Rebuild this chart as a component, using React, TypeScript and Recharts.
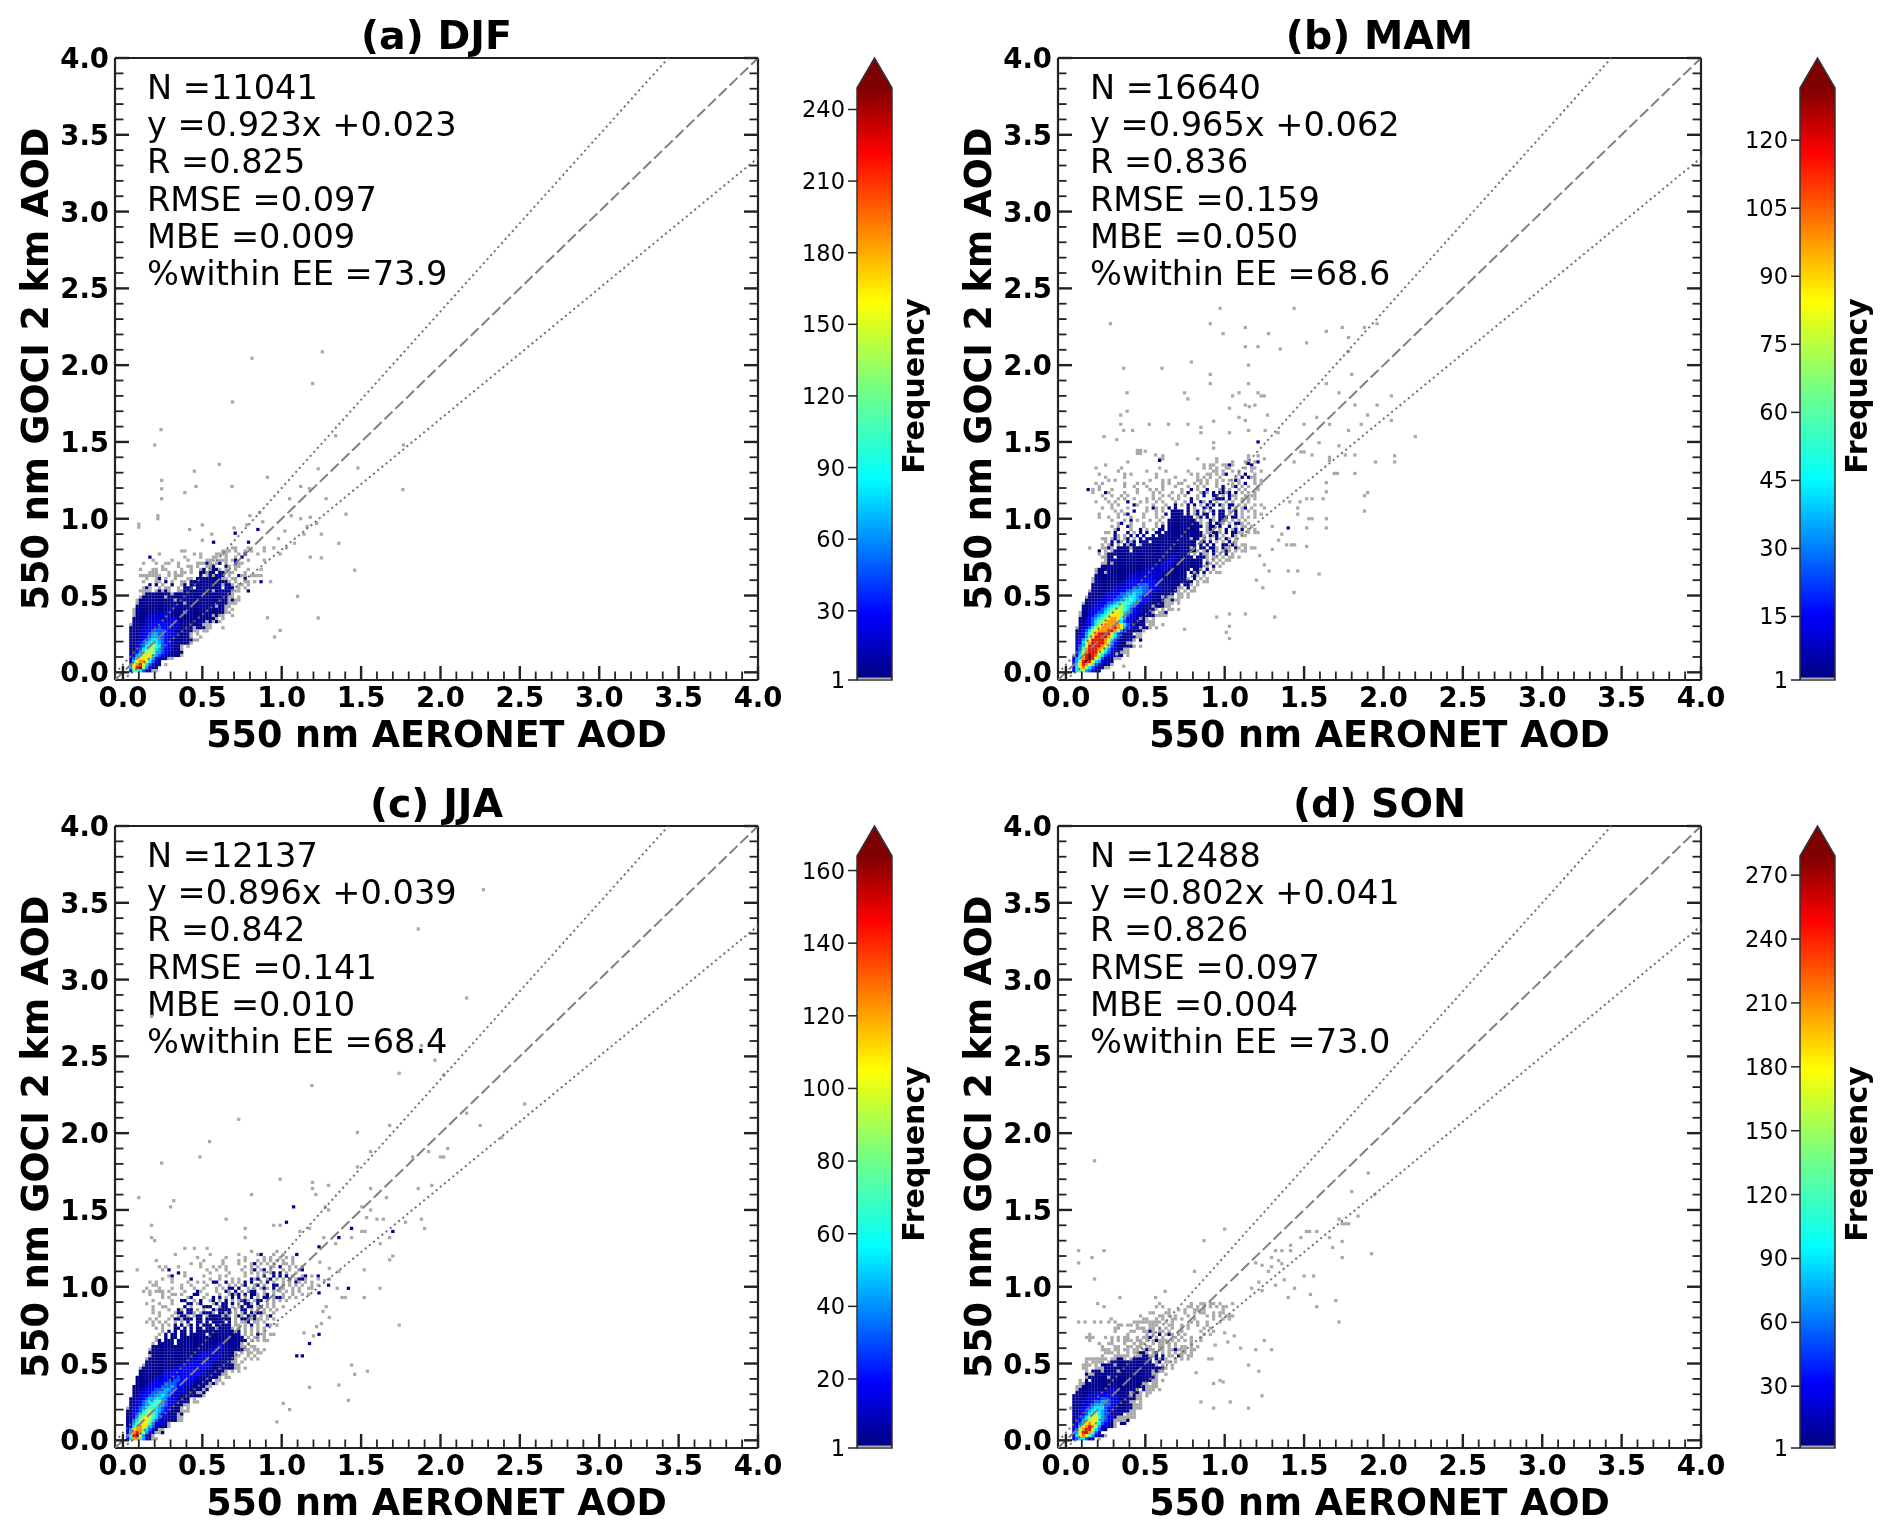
import React from 'react';
import { ScatterChart, Scatter, XAxis, YAxis, ReferenceArea } from 'recharts';

const FONT = '"DejaVu Sans", sans-serif';
const BIN = 0.02;

const axisTicks = [0, 0.1, 0.2, 0.3, 0.4, 0.5, 0.6, 0.7, 0.8, 0.9, 1, 1.1, 1.2, 1.3, 1.4, 1.5, 1.6, 1.7, 1.8, 1.9, 2, 2.1, 2.2, 2.3, 2.4, 2.5, 2.6, 2.7, 2.8, 2.9, 3, 3.1, 3.2, 3.3, 3.4, 3.5, 3.6, 3.7, 3.8, 3.9, 4];

// '.' empty, g = under-range grey, 0-9 r d = jet steps
const levelColors: Record<string, string> = {
  g: '#a9a9a9', '0': '#00008f', '1': '#0000cf', '2': '#0000ff', '3': '#0058ff', '4': '#00a4ff',
  '5': '#00e8ff', '6': '#40ffb8', '7': '#a4ff58', '8': '#ffe800', '9': '#ff9400', r: '#e81000', d: '#800000',
};

// one string per 0.02 row of GOCI AOD, top row first, each char one 0.02 column of AERONET AOD from 0
const rowsA = [
  '..................................gg...g....g..g...g',
  '..................gg...........ggg.g..g.g...g',
  '...........g..........g.g....gggg...g.0...g......g',
  '........0..........g....g...gg..g..g.0',
  '.........g.....g....g.....ggg.ggg.g0...g....g',
  '......g...g..gg..g.....ggg0g.g0.g..0gg',
  '............g....g..gg.g..gg0...0g.gg',
  '.....g...gg.gg....g..g..g0.g00g.g..g...g...g',
  '........ggg...g.g.gg.g..00g00.00.gg...g',
  '.....ggggggg..g.ggg.....0.g0g000.g..0gg.gggg',
  '.......g..g0.g..g...gg.00000000gg.gg..0',
  '......g...gg.0.g..gg.000000000000g.g..gg.g.0..g',
  '........0.0.g..0..g0.0000000000g00g.gg.g',
  '......g0g..g.gg..g.000.00000000.000.g.g',
  '.....gggg.g0g0g..gg000000000g00000ggg..0',
  '......g00000000g000000000000000000g',
  '.....g0000000g0000000000000000000gg.g',
  '....g00000000000g0000000000000000g0gg',
  '....g00000000000000g0000000000000ggg',
  '....0000000000001000000000000g00gg',
  '...g0000000000110000000000000000g.g',
  '...g000000111111000g000000000000gg',
  '...g000011111110000000000000g0gg..g',
  '...00001111111111000000000000g.g',
  '...00001112221111100000000g0g0g',
  '..g0000112222221110000000ggg',
  '..00001122232221110000g000gg...g',
  '..00011223333221100000gg.gg',
  '..0001223443322110000g.g',
  '..0001123443321100000g..g',
  '..00012345543211000000gg',
  '..0012345654321100000g',
  '..0012356765321100g.g',
  '..0013567754321100g',
  '..00246777543210000',
  '..0146788643210000g',
  '..136888742100gg',
  '..2589985310',
  '..389r853100.g',
  '..48rd74100',
  '..2665310gg',
];

const rowsB = [
  '..............................g..........................g..g',
  '.............................gg..........g.....g.........g....g',
  '...................g...........................g....g...gg.g',
  '............g..............................g.gg..gg0g.....0',
  '.........g.......g...........g.............g.g.g..gg....g.gg',
  '................g........g.....g......g.......gg.g..g.g...g..g',
  '..........g.......g.g.......g..........g.g..gg.g.g0...g.0..g',
  '............g.....g.........g.....g......g.g.g..g....g.0.0gg',
  '.............g.g..........g...g.g....g...gg.g..g.g.g.0g....g.g',
  '.........g.g......g...g.g.....g.g..gg...g.g.g..g....g.g.0..g.g',
  '..........g.......g..g...g....g...g...g..g.g...g.0..g0.g.g..g',
  '........g.g...g.......g...g.g.g.....g..0.g..0...g0.g..g.g...g',
  '........g...0g....g...g....g.g...g..g.0...g0g.0.00g0.0.g.g.g',
  '...........g..g..g.g.......g..g.g..g.g...g.0..00.g.0gg..g.gg',
  '............g...g.g..g...g.g.g...g.g...0.g....g000.0.g.g.g.g',
  '.........g...g.g...0...g.g..g.g...g..g.0..0g.0.g..g.g..g.g',
  '..............g.g....0g....g...g..0.g.0.0.g.0.0.0g.00.g.g..g.g',
  '...........g..g....g.....g.0g.g.0.0...0.g..0.0...g.0.g.g0.g...g',
  '...............g.g...0...g..g.g..0000.0.g0.g.g0.00.g.0.g.g.g',
  '..........g.....g.g0....g...g..0.0000.0.g0.00.0.00.g.0.g...g.g',
  '..........g..g..g...g...g...g.g..0000000.g0.0.g.000.00.g.g.g',
  '..............g...g.0.g...g..g..000000000.g..0g.00g.g.g.g',
  '................g0..g...g...g.g.0000000000g.g0.00g.g.00g.g',
  '..............g.g..0g...g...g.0.00000000000.g00.0..0.g.gg.g',
  '...............g0...g..0.g.g.00.0000000000..g0..g.0.g0.0.g.g',
  '............gg.0...0.g.0.0..00.000000000000.g.00g.0.00gg.g.gg',
  '...............0g.g.0.0.0..0.00000000000000g.0g0.g..0g.gg',
  '...........gg.g0g.g0.g.0.00000000000000g00.g.g.0g.0g.g',
  '............g.0.0g.0g0.000.00000000000000.g0.0.g.g.0.g',
  '...........g.g0.g.0g00.g00000000000000000.0.0.0..00.0g.gg',
  '.......g...gg0g.0000g000000000000000000g0.00.00g.0gg.0g.g.gg',
  '..........0.g.g00000.00000000000000000000g.g0.0g.g0g.g.gg',
  '..........g.g00000000000000000000000000.g.0gg.0.g.0.g',
  '...........gg00.000000000000000001100000.000g.gg.g.gg.g',
  '............g000000000000000000011100000000.g.g.g.gg',
  '...........gg0g0000000000000001111000000000.0g.g.g',
  '...........00000000000000001111110000000000.g.0.g',
  '.........g00000000000000011111110000000.00g.0.g',
  '.........g00g0000000001111111100000000.0g0.0.g.gg',
  '.........00000000000111111111100000000..0g.g',
  '........g00000000001111222211100000000g.0.g.g',
  '........g0000000001112222222110000000000.g.gg',
  '........0000000011112223332211000000.00g.g',
  '........000000011112233433221100000gg.0.g',
  '.......g000000111223344433211000000g.g.gg',
  '.......000001112233445443210000000.gg.g',
  '......g00001112233455543211000g0gg.gg.g',
  '......0000111223345565432110000gg0gg',
  '.....g0001112334566654321100000ggg.g',
  '.....0001122345667654321000g000gg',
  '.....00112234567776532110000g.g.gg.g',
  '....g0011233567887543211000g.gg0',
  '....g00123456788875321100000gggg',
  '....0012345678998642110g0g.g',
  '....001235678999853210000ggg',
  '....001235789999985321000.gg..g',
  '...g01235789999r9842100g00g.g',
  '...0013578999rr974210000g',
  '...0024689rrrr8531000.gg',
  '...012468rrrr975310000gg',
  '...02468rrrr985310000g.0',
  '...02579rrrr9742100gg',
  '...1357rrrr9863100000g.g',
  '...1369rrr98642100gg',
  '...2479rrr8753100ggg',
  '..g258rdr975321000.g',
  '..1469rdr863100gg',
  '..247rdr8542100',
  '..258r98631000g',
  '..2589753100gg',
  '..156743100',
];

const rowsC = [
  '...................g..g...g',
  '........................................g.......g',
  '................g..........g........g.....g0...g..g',
  '.......................g........g.....g.....g.g..g.g.g',
  '..........g..............g.....g....g.g...g.g.g.g.g..g',
  '.....................g..g......g....g...g0.g.g.g..gg.g',
  '...........g.g...g......g...g.g.g.....g.g.g...gg....g.g.g',
  '....g.......g.0...........g..g..g....g..g0.g0.g...g.g..g0',
  '.................0.g.......g.....g....g.g.g.g.g0.0.g..g',
  '..............g0...g.....g....g.g.....g...g.0..0.0.g.g..g0.g.0',
  '............g..g.....0.....g..g...g.g...0g0..g0.g.g.0.g0.g...g',
  '........g.g....g....g..g.g..00..0.g.g.0.0..g.0.g..g.g.0g.g.g',
  '.........gg.......g..g....g...g..g.g.g0..g0.g..00.g.g.g.g..g.g',
  '.......g...g...g..g...g..g...g.g.00.0..g.g.g0g.0.gg..g.g..gg',
  '......g.g.ggg.g....g...0g....g..0g.0.g.g00..g..g.g.g.g.g',
  '........g...g..gg.g...00..g...g..g0g0.0.00g.g0.g..g..g..g.g',
  '............g.g.....g0...g..0.0.g.0.0.g.0.g.00.g00g.g.g',
  '.........g.....g..00..g.0..g0.g.0.g.g00g.g00.g.g.g.g',
  '.......g...g...g....00.g0...g0.00.0.g.00g.0..g.g',
  '.........g..gg.....0.g...000..g00.g.g0.00.g0.g.g..g',
  '.........g....g..0g.00.g.g..0g0000.g.00.g.g.g.g.g',
  '.........g.g....g00.00g.g000g.00g0.g.g0.0g00g..g',
  '...........g...g.g00g.g00.g0000g0g.g0g.0g0.g.g0',
  '........g.g...g.00g000.00.00000000.g.000g0gg.g.g',
  '.......g.g.g.g..g.g.0..00.0.0000.0.g.g.0.gg.g',
  '.........g..g.g.0.0.g0.0.000.00000.gg.g.0.g..0g.g',
  '..........g.g...00.0.0.00.000.0000g.g.g.g.g.g',
  '............g.0.0.00.0.000000000000.0.g.g.g.g',
  '...........g.0.00.00.00000.0000000000.g.g.0.g.gg',
  '..........g..0.00.00000000000000000000.g.gg.g',
  '..........g0.000.0000000000000000000000.g.g.gg',
  '.........g.00000.00000000000001100000g.g',
  '.........0000000000000000000111100000gg.gg',
  '........g00000000000000000011110000000gg.gg.g',
  '........000000000000000011111110000g.g.gg.gg',
  '........g00000000000000111111110000gg..g.g',
  '.......g000000000000011111111100000g..g.g.g',
  '.......000000000000011111211100000gg.g',
  '......g0000000000011122222110000000gg',
  '.....g00000000001112222222110000000gg.g',
  '.....000000001112222222211000000g.g.g',
  '.....00000001112222222221100000gg',
  '....00000011122223222221000000g.gg',
  '....000001112222332221100000.gg',
  '....00001122233332221100000g0g.g',
  '...00001122233343221100000gg',
  '...0001122333443221100000g0',
  '...00112233444332110000gg0',
  '...0012233445432110000000g',
  '..0011234455432110000.g',
  '..0012345566432110000.gg',
  '..00123456654321000gg',
  '.g0123456654321000g.g',
  '.00123567654321000ggg',
  '.0013567765321000g0',
  '.0024678765321000gg',
  '.0135788753211000gg',
  '.0146888642110g',
  '.0258987531000g',
  '.1489975310gg',
  '.259r97420gg0',
  '.36rd8410g',
  '.25996410gg',
];

const rowsD = [
  '.............................g.........g..gg.gg.g...g',
  '............................g.g.......gg.g.g.g.g.gg',
  '................................g..g.g..gg.g.....g',
  '..........................gg...gg....g..g.gg..g.gg',
  '.......................g.....gg.g.g...g.....g.g.g.ggg',
  '........................gg..g.g..gg.g...g.....g..g.g',
  '.............g.g.....ggggggggg.g.g.....g.g..g...g',
  '................gg.gg.g...ggg...gg..g.g..g..g',
  '...............gg.....ggg.gg.g.g.g..g.g....g.g',
  '...............g....gg..gg0g.gg.g...g.....g...g',
  '.......g...........g.....g.g.0.g0g.g.g.....g.g',
  '......ggg...g.g.g.gg..g.gg0.g.g...g.g..g..g',
  '.......g......g.g.ggg.gg.g.g0ggg.g.g.g.g..g',
  '..........g..gg...g..g.gg..g.gg.g.g....g',
  '...........g...gg..gg.gg.gg..gg.g.g.gg.g.g',
  '...........ggg.gg.gg.gg.g0gg.gg.gg0ggg.gg',
  '............ggg.g..g.gg00g.g0.g.g.g.gg.g',
  '...........g...ggggg..gg00gg0.0.gg.0g.gg',
  '......ggggggg.gg00g.g000000.0g0g..g.g.g',
  '......g.gggg.g0000000000000.g0.gg.g',
  '.....ggg.g.0000g000000000000g.g..g',
  '.....gg..ggg0000000000000000000g.g',
  '......g.000g0000g0000000000g0gg',
  '......0gg000000000000000000gg..g',
  '......g000000g00000000000000g',
  '....g.0.0000000000000000000gg.g',
  '....gg000000000000000000gg.gg',
  '...gg00000000000000000000gggg',
  '...g000000000111100000g.0ggg.g',
  '...00000011111110000g00g.gg',
  '..000001111222111000g0gg.g',
  '..00001112233221100000gg',
  '..000111233443211000gg.g',
  '..0001123445332100000ggg',
  '.g0012234555321100000ggg',
  '..001234565432100000gg',
  '..0012356754321000.ggg',
  '..01235778643210gggggg',
  '..0124678864321gggg0',
  '..0136898753210g.00',
  '..12689r9741100g',
  '..1379rr85310',
  '..248rr9631',
  '..2589864100g',
  '..1355310.g',
];

const greyA = [[1.256, 2.087], [0.813, 2.045], [1.195, 1.88], [0.69, 1.76], [0.24, 1.58], [0.2, 1.48], [1.34, 1.54], [1.767, 1.48], [1.763, 1.19], [0.607, 1.354], [0.45, 1.31], [0.91, 1.27], [1.23, 1.325], [1.48, 1.33], [0.244, 1.25], [0.244, 1.195], [0.244, 1.13], [0.46, 1.21], [0.687, 1.21], [0.39, 1.17], [0.1, 0.965], [0.1, 0.945], [0.22, 1.02], [0.22, 1.0], [1.12, 1.21], [1.05, 1.13], [1.175, 1.196], [1.28, 1.13], [1.405, 1.03], [1.36, 0.84], [1.46, 0.665], [1.25, 0.745], [1.18, 0.75], [0.91, 0.355], [1.23, 0.354], [0.955, 0.23], [0.99, 0.273], [1.1, 0.495], [0.98, 0.87], [1.06, 1.02], [1.12, 1.0], [1.16, 0.95], [1.18, 1.01], [1.22, 0.97], [1.14, 0.9], [1.08, 0.84], [1.02, 0.92], [1.25, 0.9], [0.86, 1.04], [0.88, 0.98], [0.8, 1.02], [0.78, 0.96], [0.7, 0.94], [0.42, 0.93], [0.5, 0.96], [0.56, 0.9], [0.5, 0.86]];
const navyA = [[0.707, 0.906], [0.571, 0.847], [0.791, 0.847], [0.85, 0.93]];

const greyB = [[0.971, 2.37], [1.437, 2.37], [0.28, 2.27], [0.909, 2.27], [1.13, 2.245], [1.74, 2.245], [1.88, 2.245], [1.96, 2.27], [1.64, 2.22], [0.99, 2.205], [1.276, 2.205], [1.78, 2.18], [1.516, 2.145], [1.13, 2.12], [1.21, 2.12], [1.35, 2.105], [1.78, 2.09], [0.79, 2.02], [1.15, 2.0], [0.364, 1.98], [0.605, 1.98], [0.909, 1.94], [0.909, 1.88], [1.15, 1.88], [1.8, 1.94], [1.64, 1.88], [0.385, 1.82], [0.747, 1.82], [0.768, 1.78], [1.05, 1.8], [1.09, 1.82], [1.21, 1.82], [1.23, 1.8], [1.25, 1.8], [1.72, 1.82], [2.05, 1.8], [1.96, 1.74], [1.82, 1.74], [1.03, 1.72], [1.155, 1.73], [1.13, 1.74], [1.19, 1.74], [0.385, 1.7], [0.345, 1.675], [1.27, 1.675], [1.9, 1.675], [0.93, 1.635], [1.09, 1.66], [1.13, 1.64], [1.58, 1.66], [2.05, 1.64], [0.345, 1.615], [0.525, 1.615], [0.646, 1.615], [0.768, 1.615], [0.85, 1.595], [1.5, 1.615], [1.66, 1.615], [1.86, 1.615], [0.364, 1.575], [0.42, 1.575], [0.85, 1.56], [1.03, 1.56], [1.15, 1.575], [1.255, 1.575], [1.336, 1.56], [1.78, 1.575], [2.2, 1.535], [0.24, 1.535], [0.32, 1.515], [1.595, 1.495], [0.93, 1.495], [0.93, 1.46], [0.7, 1.485], [0.45, 1.445], [0.47, 1.445], [0.45, 1.425], [0.47, 1.425], [0.5, 1.44], [0.565, 1.415], [1.82, 1.415], [1.76, 1.415], [1.72, 1.475], [1.66, 1.4], [1.66, 1.38], [2.07, 1.41], [2.07, 1.37], [1.95, 1.37], [1.55, 1.415], [1.5, 1.435], [1.48, 1.435], [1.437, 1.37], [1.82, 1.295], [1.69, 1.295], [1.71, 1.295], [1.64, 1.235], [1.64, 1.175], [1.88, 1.15], [1.9, 1.17], [1.88, 1.05], [1.55, 1.13], [1.516, 1.13], [1.62, 1.13], [1.475, 1.11], [1.41, 1.11], [1.46, 1.07], [1.46, 1.03], [1.64, 1.0], [1.64, 0.94], [1.55, 1.0], [1.53, 1.0], [1.516, 0.94], [1.516, 0.82], [1.39, 0.83], [1.42, 0.83], [1.44, 0.83], [1.4, 0.66], [1.46, 0.66], [1.595, 0.64], [1.437, 0.52], [1.315, 0.36], [1.13, 0.38], [1.03, 0.38], [0.95, 0.36], [1.03, 0.3], [1.01, 0.26], [1.03, 0.22], [0.747, 0.28], [0.364, 0.04], [0.32, 0.12], [0.34, 0.09], [1.3, 0.95], [1.36, 0.9], [1.34, 0.86], [1.3, 0.8], [1.22, 0.76], [1.25, 0.7], [1.28, 0.66], [1.2, 0.6], [1.24, 0.55]];
const navyB = [[1.21, 1.5], [1.21, 1.37], [1.15, 1.36], [0.59, 1.38], [0.14, 1.19], [1.4, 0.94]];

const greyC = [[2.27, 3.585], [1.86, 3.33], [2.165, 2.88], [0.18, 2.76], [1.88, 2.57], [1.965, 2.475], [1.74, 2.39], [1.19, 2.31], [2.02, 2.38], [2.53, 2.19], [0.729, 2.09], [0.546, 1.945], [0.485, 1.845], [0.244, 1.805], [1.477, 2.005], [1.68, 2.05], [2.165, 2.13], [2.25, 2.05], [2.385, 1.97], [1.56, 1.88], [1.925, 1.88], [2.045, 1.9], [2.0, 1.845], [2.02, 1.845], [1.825, 1.845], [1.477, 1.78], [0.1, 1.58], [0.32, 1.56], [0.3, 1.52], [0.81, 1.6], [0.99, 1.7], [1.194, 1.68], [1.194, 1.64], [1.215, 1.6], [1.295, 1.66], [1.56, 1.64], [1.86, 1.64], [1.945, 1.66], [1.66, 1.58], [1.56, 1.5], [1.505, 1.52], [1.275, 1.52], [1.295, 1.5], [0.65, 1.44], [0.18, 1.4], [1.88, 1.44], [1.9, 1.38], [1.78, 1.42], [1.6, 1.44], [1.64, 1.44], [1.535, 1.45], [0.77, 1.38], [0.77, 1.32], [0.18, 1.32], [0.2, 1.3], [0.95, 1.4], [0.99, 1.4], [1.115, 1.36], [1.175, 1.38], [1.265, 1.32], [1.34, 1.28], [1.62, 1.28], [1.68, 1.32], [1.525, 1.36], [1.505, 1.36], [1.44, 1.32], [1.7, 1.2], [1.68, 1.175], [1.52, 1.11], [1.62, 0.99], [1.52, 0.93], [1.74, 0.75], [1.44, 0.49], [1.46, 0.43], [1.54, 0.45], [1.36, 0.36], [1.175, 0.345], [1.42, 0.26], [1.01, 0.24], [1.05, 0.2], [0.97, 0.12], [1.3, 1.12], [1.36, 1.1], [1.24, 1.16], [1.3, 1.05], [1.27, 1.04], [1.35, 0.99], [1.4, 0.93], [1.38, 0.93], [1.28, 0.87], [1.26, 0.84], [1.25, 0.76], [1.22, 0.74], [1.3, 0.8], [1.14, 0.7], [1.2, 0.68]];
const navyC = [[1.075, 1.52], [1.03, 1.42], [1.44, 1.38], [1.36, 1.32], [1.7, 1.36], [1.235, 1.26], [1.095, 1.21], [0.99, 1.13], [1.03, 1.07], [1.13, 1.05], [1.295, 1.01], [1.42, 0.99], [1.235, 0.69], [1.175, 0.63], [1.095, 0.55], [1.13, 0.55], [1.235, 0.96]];

const greyD = [[0.18, 1.82], [0.08, 1.235], [0.08, 1.155], [0.164, 1.19], [0.24, 1.235], [0.18, 1.05], [1.905, 1.74], [1.8, 1.62], [1.945, 1.6], [1.84, 1.46], [1.72, 1.44], [1.74, 1.41], [1.78, 1.41], [1.76, 1.41], [1.0, 1.375], [0.87, 1.3], [1.515, 1.36], [1.535, 1.36], [1.58, 1.36], [1.48, 1.32], [1.415, 1.27], [1.415, 1.235], [1.32, 1.235], [1.36, 1.235], [1.66, 1.32], [1.74, 1.295], [1.68, 1.255], [1.74, 1.19], [1.925, 1.215], [1.295, 1.19], [1.34, 1.17], [1.195, 1.155], [1.235, 1.14], [1.295, 1.13], [1.36, 1.15], [1.275, 1.1], [1.5, 1.07], [1.56, 1.07], [1.375, 1.045], [1.32, 1.01], [1.44, 0.99], [1.215, 1.03], [1.17, 0.99], [1.235, 0.975], [1.54, 0.95], [1.4, 0.93], [1.58, 0.87], [1.7, 0.91], [1.72, 0.77], [0.81, 1.1], [0.625, 0.97], [0.565, 0.93], [0.34, 0.93], [0.2, 0.89], [0.24, 0.87], [0.18, 0.77], [0.08, 0.77], [0.12, 0.77], [0.22, 0.77], [0.285, 0.79], [1.25, 0.65], [1.195, 0.59], [1.295, 0.59], [1.15, 0.49], [1.215, 0.45], [1.235, 0.29], [1.15, 0.21], [1.035, 0.25], [0.93, 0.21], [0.85, 0.25], [0.93, 0.37], [0.97, 0.39], [0.99, 0.38], [0.9, 0.53], [0.92, 0.53], [0.82, 0.44], [1.0, 0.7], [1.02, 0.64], [1.06, 0.68], [1.1, 0.6], [0.94, 0.62]];
const navyD: number[][] = [];

const statsA = ['N =11041', 'y =0.923x +0.023', 'R =0.825', 'RMSE =0.097', 'MBE =0.009', '%within EE =73.9'];
const statsB = ['N =16640', 'y =0.965x +0.062', 'R =0.836', 'RMSE =0.159', 'MBE =0.050', '%within EE =68.6'];
const statsC = ['N =12137', 'y =0.896x +0.039', 'R =0.842', 'RMSE =0.141', 'MBE =0.010', '%within EE =68.4'];
const statsD = ['N =12488', 'y =0.802x +0.041', 'R =0.826', 'RMSE =0.097', 'MBE =0.004', '%within EE =73.0'];

const barTicksA = [1, 30, 60, 90, 120, 150, 180, 210, 240];
const barTicksB = [1, 15, 30, 45, 60, 75, 90, 105, 120];
const barTicksC = [1, 20, 40, 60, 80, 100, 120, 140, 160];
const barTicksD = [1, 30, 60, 90, 120, 150, 180, 210, 240, 270];

const oneToOne = [{ x: -0.05, y: -0.05 }, { x: 4, y: 4 }];
const eeUpper = [{ x: -0.05, y: -0.0075 }, { x: 3.435, y: 4 }];
const eeLower = [{ x: 0, y: -0.05 }, { x: 4, y: 3.35 }];

const jetStops: [number, string][] = [[0, '#00007f'], [0.11, '#0000ff'], [0.34, '#00ffff'], [0.5, '#7cff7c'], [0.64, '#ffff00'], [0.89, '#ff0000'], [1, '#7f0000']];

function cellsFrom(rows: string[], grey: number[][], navy: number[][]) {
  const out: { x: number; y: number; level: string }[] = [];
  rows.forEach((row, r) => {
    const i = rows.length - 1 - r;
    row.split('').forEach((c, j) => {
      if (c !== '.') out.push({ x: (j + 0.5) * BIN, y: (i + 0.5) * BIN, level: c });
    });
  });
  grey.forEach(([x, y]) => out.push({ x, y, level: 'g' }));
  navy.forEach(([x, y]) => out.push({ x, y, level: '0' }));
  return out;
}

const binShape = (props: any) => (
  <rect x={props.cx - 1.65} y={props.cy - 1.6} width={3.3} height={3.2} fill={levelColors[props.payload.level]} />
);
const noDot = () => <g />;

const isMajor = (v: number) => Math.round(v * 10) % 5 === 0;

function sideTick(side: string) {
  return (props: any) => {
    const { x, y, payload } = props;
    const major = isMajor(payload.value);
    const len = major ? 14 : 8.5;
    const sw = major ? 2.4 : 1.8;
    const label = payload.value.toFixed(1);
    const textStyle = { fontFamily: FONT, fontWeight: 'bold', fontSize: 27.5, fill: '#000' };
    if (side === 'bottom') {
      return (
        <g>
          <line x1={x} x2={x} y1={y} y2={y - len} stroke="#222" strokeWidth={sw} />
          {major && <text x={x} y={y + 27} textAnchor="middle" {...textStyle}>{label}</text>}
        </g>
      );
    }
    if (side === 'top') return <line x1={x} x2={x} y1={y} y2={y + len} stroke="#222" strokeWidth={sw} />;
    if (side === 'right') return <line x1={x} x2={x - len} y1={y} y2={y} stroke="#222" strokeWidth={sw} />;
    return (
      <g>
        <line x1={x} x2={x + len} y1={y} y2={y} stroke="#222" strokeWidth={sw} />
        {major && <text x={x - 6} y={y + 10} textAnchor="end" {...textStyle}>{label}</text>}
      </g>
    );
  };
}

const titleStyle = { fontFamily: FONT, fontWeight: 'bold', fontSize: 39.5, fill: '#000' };
const axisNameStyle = { fontFamily: FONT, fontWeight: 'bold', fontSize: 36.5, fill: '#000' };

function Scatter2D({ left, top, title, rows, grey, navy, stats }: any) {
  const data = cellsFrom(rows, grey, navy);
  const axisCommon = {
    type: 'number' as const,
    domain: [-0.05, 4],
    ticks: axisTicks,
    interval: 0,
    tickSize: 0,
    tickMargin: 0,
    tickLine: false,
    allowDataOverflow: true,
    axisLine: { stroke: '#222', strokeWidth: 2.2 },
  };
  return (
    <div style={{ position: 'absolute', left, top }}>
      <ScatterChart width={800} height={760} margin={{ top: 57, left: 114, right: 41, bottom: 79 }}>
        <XAxis {...axisCommon} xAxisId="b" dataKey="x" orientation="bottom" height={1} tick={sideTick('bottom')}
          label={{ value: '550 nm AERONET AOD', position: 'bottom', offset: 40, style: axisNameStyle }} />
        <XAxis {...axisCommon} xAxisId="t" orientation="top" height={1} tick={sideTick('top')}
          label={{ value: title, position: 'top', offset: 8, style: titleStyle }} />
        <YAxis {...axisCommon} yAxisId="l" dataKey="y" orientation="left" width={1} tick={sideTick('left')}
          label={{ value: '550 nm GOCI 2 km AOD', position: 'left', angle: -90, offset: 79, style: { ...axisNameStyle, textAnchor: 'middle' } }} />
        <YAxis {...axisCommon} yAxisId="r" orientation="right" width={1} tick={sideTick('right')} />
        <Scatter data={data} xAxisId="b" yAxisId="l" shape={binShape} isAnimationActive={false} />
        <Scatter data={oneToOne} xAxisId="b" yAxisId="l" shape={noDot} isAnimationActive={false}
          line={{ stroke: '#808080', strokeWidth: 2, strokeDasharray: '11 4' }} />
        <Scatter data={eeUpper} xAxisId="b" yAxisId="l" shape={noDot} isAnimationActive={false}
          line={{ stroke: '#707070', strokeWidth: 2, strokeDasharray: '2 3.4' }} />
        <Scatter data={eeLower} xAxisId="b" yAxisId="l" shape={noDot} isAnimationActive={false}
          line={{ stroke: '#707070', strokeWidth: 2, strokeDasharray: '2 3.4' }} />
        {stats.map((s: string, k: number) => (
          <text key={s} x={147} y={99 + 37.2 * k} fontFamily={FONT} fontSize={33.6} fill="#000">{s}</text>
        ))}
      </ScatterChart>
    </div>
  );
}

function ColorBar({ left, top, ticks, vmax, id }: any) {
  const barShape = (p: any) => {
    const { x, y, width, height } = p;
    const d = `M${x},${y + height}L${x},${y}L${x + width / 2},${y - 30}L${x + width},${y}L${x + width},${y + height}Z`;
    return (
      <g>
        <path d={d} fill={`url(#${id})`} stroke="#333" strokeWidth={1.5} />
        <line x1={x + 1} x2={x + width - 1} y1={y + height - 1.5} y2={y + height - 1.5} stroke="#aaa" strokeWidth={2} />
      </g>
    );
  };
  return (
    <div style={{ position: 'absolute', left, top }}>
      <ScatterChart width={160} height={710} margin={{ top: 88, left: 68, right: 56, bottom: 30 }}>
        <defs>
          <linearGradient id={id} x1="0" y1="1" x2="0" y2="0">
            {jetStops.map(([o, c]) => <stop key={o} offset={o * 0.952} stopColor={c} />)}
          </linearGradient>
        </defs>
        <XAxis type="number" dataKey="x" domain={[0, 1]} hide xAxisId="c" allowDataOverflow />
        <YAxis type="number" dataKey="y" domain={[1, vmax]} yAxisId="c" ticks={ticks} interval={0} width={1} allowDataOverflow
          tickSize={9} tickMargin={3} axisLine={false} tickLine={{ stroke: '#222', strokeWidth: 1.5 }}
          tick={{ fontFamily: FONT, fontSize: 22.5, fill: '#000' }} />
        <Scatter data={[{ x: 0.5, y: 1 }]} xAxisId="c" yAxisId="c" shape={noDot} isAnimationActive={false} />
        <ReferenceArea xAxisId="c" yAxisId="c" x1={0} x2={1} y1={1} y2={vmax} shape={barShape} ifOverflow="visible" />
        <text transform="translate(136,386) rotate(-90)" textAnchor="middle" fontFamily={FONT} fontWeight="bold" fontSize={30} fill="#000">Frequency</text>
      </ScatterChart>
    </div>
  );
}

export default function App() {
  return (
    <div style={{ position: 'absolute', left: 0, top: 0, width: 1892, height: 1533, background: '#fff', overflow: 'hidden', filter: 'blur(0.5px)' }}>
      <Scatter2D left={0} top={0} title="(a) DJF" rows={rowsA} grey={greyA} navy={navyA} stats={statsA} />
      <Scatter2D left={943} top={0} title="(b) MAM" rows={rowsB} grey={greyB} navy={navyB} stats={statsB} />
      <Scatter2D left={0} top={768} title="(c) JJA" rows={rowsC} grey={greyC} navy={navyC} stats={statsC} />
      <Scatter2D left={943} top={768} title="(d) SON" rows={rowsD} grey={greyD} navy={navyD} stats={statsD} />
      <ColorBar left={788} top={0} id="jetA" ticks={barTicksA} vmax={249} />
      <ColorBar left={1731} top={0} id="jetB" ticks={barTicksB} vmax={131.5} />
      <ColorBar left={788} top={768} id="jetC" ticks={barTicksC} vmax={164} />
      <ColorBar left={1731} top={768} id="jetD" ticks={barTicksD} vmax={279} />
    </div>
  );
}
